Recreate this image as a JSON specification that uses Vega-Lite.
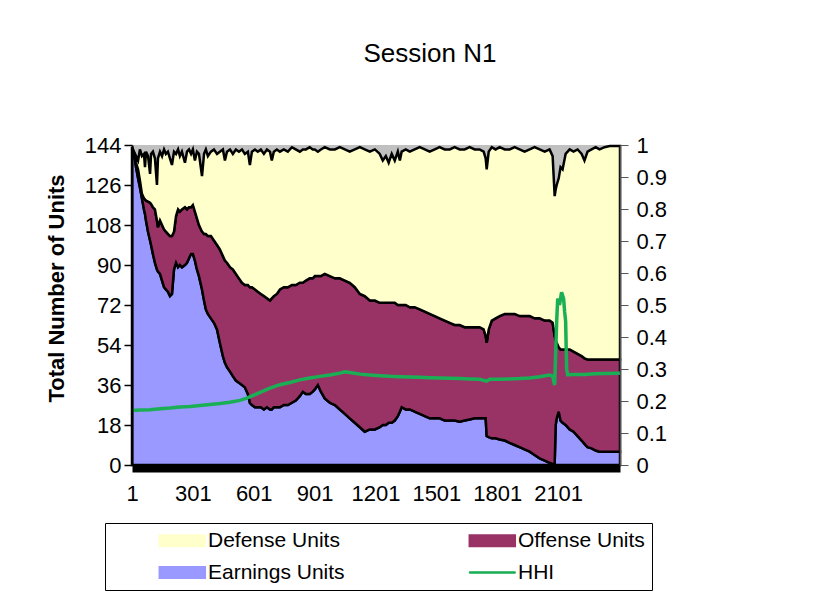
{
  "$schema": "https://vega.github.io/schema/vega-lite/v6.json",
  "width": 488,
  "height": 320,
  "autosize": "none",
  "padding": {"left": 132, "top": 145, "right": 194, "bottom": 132},
  "background": "white",
  "config": {"view": {"fill": "#C0C0C0", "stroke": null}, "font": "Liberation Sans"},
  "title": {"text": "Session N1", "fontSize": 26, "fontWeight": "normal", "font": "Liberation Sans", "color": "black", "anchor": "middle", "frame": "group", "dx": 54, "baseline": "alphabetic", "offset": 46},
  "datasets": {
    "units": [
      {"period": 1, "earnings": 142, "offense": 1, "defense": 0},
      {"period": 11, "earnings": 140, "offense": 0.5, "defense": 0.5},
      {"period": 21, "earnings": 134, "offense": 2, "defense": 3},
      {"period": 31, "earnings": 129, "offense": 4, "defense": 4},
      {"period": 40, "earnings": 125, "offense": 3, "defense": 14},
      {"period": 50, "earnings": 120, "offense": 2, "defense": 17},
      {"period": 60, "earnings": 115, "offense": 5, "defense": 20},
      {"period": 65, "earnings": 113, "offense": 6.5, "defense": 14.5},
      {"period": 70, "earnings": 110, "offense": 9, "defense": 22},
      {"period": 80, "earnings": 105, "offense": 13.5, "defense": 20.5},
      {"period": 90, "earnings": 101, "offense": 17, "defense": 13},
      {"period": 95, "earnings": 99, "offense": 18.5, "defense": 22.5},
      {"period": 104, "earnings": 95, "offense": 21, "defense": 25},
      {"period": 114, "earnings": 91, "offense": 24, "defense": 23},
      {"period": 124, "earnings": 88, "offense": 22, "defense": 16},
      {"period": 129, "earnings": 87, "offense": 20, "defense": 31},
      {"period": 139, "earnings": 86, "offense": 24, "defense": 31},
      {"period": 149, "earnings": 83, "offense": 25, "defense": 31},
      {"period": 159, "earnings": 80, "offense": 26, "defense": 36},
      {"period": 168, "earnings": 79, "offense": 26, "defense": 35},
      {"period": 178, "earnings": 78, "offense": 26, "defense": 37},
      {"period": 188, "earnings": 76, "offense": 27, "defense": 35},
      {"period": 198, "earnings": 77, "offense": 26, "defense": 32},
      {"period": 208, "earnings": 88, "offense": 17, "defense": 36},
      {"period": 218, "earnings": 91, "offense": 21, "defense": 28},
      {"period": 228, "earnings": 89, "offense": 26, "defense": 27},
      {"period": 237, "earnings": 90, "offense": 24, "defense": 25},
      {"period": 247, "earnings": 89, "offense": 26, "defense": 26},
      {"period": 262, "earnings": 90, "offense": 26, "defense": 20},
      {"period": 272, "earnings": 91, "offense": 24, "defense": 26},
      {"period": 282, "earnings": 93, "offense": 23, "defense": 26},
      {"period": 292, "earnings": 95, "offense": 21, "defense": 24},
      {"period": 301, "earnings": 95, "offense": 22, "defense": 25},
      {"period": 311, "earnings": 92, "offense": 22, "defense": 23},
      {"period": 321, "earnings": 88, "offense": 23, "defense": 30},
      {"period": 331, "earnings": 85, "offense": 23, "defense": 32},
      {"period": 346, "earnings": 79, "offense": 26, "defense": 25},
      {"period": 356, "earnings": 74, "offense": 30, "defense": 36},
      {"period": 365, "earnings": 70, "offense": 34, "defense": 38},
      {"period": 375, "earnings": 68, "offense": 35, "defense": 36},
      {"period": 390, "earnings": 66, "offense": 37, "defense": 38},
      {"period": 405, "earnings": 64, "offense": 37, "defense": 41},
      {"period": 420, "earnings": 61, "offense": 38, "defense": 41},
      {"period": 434, "earnings": 55, "offense": 42, "defense": 44},
      {"period": 449, "earnings": 49, "offense": 45, "defense": 48},
      {"period": 459, "earnings": 46, "offense": 46, "defense": 45},
      {"period": 469, "earnings": 44, "offense": 47, "defense": 50},
      {"period": 484, "earnings": 42, "offense": 47, "defense": 53},
      {"period": 498, "earnings": 40, "offense": 48, "defense": 52},
      {"period": 513, "earnings": 38, "offense": 48, "defense": 56},
      {"period": 528, "earnings": 37, "offense": 47, "defense": 57},
      {"period": 543, "earnings": 36, "offense": 46, "defense": 60},
      {"period": 557, "earnings": 35, "offense": 46, "defense": 59},
      {"period": 572, "earnings": 32, "offense": 49, "defense": 60},
      {"period": 582, "earnings": 28, "offense": 52, "defense": 55},
      {"period": 592, "earnings": 27, "offense": 53, "defense": 61},
      {"period": 607, "earnings": 26, "offense": 53, "defense": 63},
      {"period": 621, "earnings": 26, "offense": 52, "defense": 63},
      {"period": 636, "earnings": 26, "offense": 51, "defense": 65},
      {"period": 651, "earnings": 25, "offense": 51, "defense": 64},
      {"period": 666, "earnings": 26, "offense": 49, "defense": 67},
      {"period": 681, "earnings": 25, "offense": 49, "defense": 67},
      {"period": 690, "earnings": 25, "offense": 50, "defense": 62},
      {"period": 700, "earnings": 26, "offense": 50, "defense": 65},
      {"period": 715, "earnings": 26, "offense": 51, "defense": 65},
      {"period": 730, "earnings": 26, "offense": 53, "defense": 62},
      {"period": 749, "earnings": 27, "offense": 53, "defense": 62},
      {"period": 769, "earnings": 27, "offense": 53, "defense": 61},
      {"period": 789, "earnings": 28, "offense": 53, "defense": 62},
      {"period": 808, "earnings": 29, "offense": 52, "defense": 61},
      {"period": 828, "earnings": 31, "offense": 51, "defense": 59},
      {"period": 843, "earnings": 33, "offense": 49, "defense": 60},
      {"period": 858, "earnings": 32, "offense": 51, "defense": 59},
      {"period": 877, "earnings": 32, "offense": 52, "defense": 59},
      {"period": 892, "earnings": 33, "offense": 51, "defense": 58},
      {"period": 902, "earnings": 34, "offense": 51, "defense": 57},
      {"period": 917, "earnings": 36, "offense": 49, "defense": 56},
      {"period": 932, "earnings": 33, "offense": 52, "defense": 57},
      {"period": 951, "earnings": 30, "offense": 56, "defense": 57},
      {"period": 976, "earnings": 28, "offense": 57, "defense": 57},
      {"period": 1001, "earnings": 27, "offense": 57, "defense": 58},
      {"period": 1025, "earnings": 25, "offense": 59, "defense": 59},
      {"period": 1050, "earnings": 23, "offense": 60, "defense": 59},
      {"period": 1074, "earnings": 21, "offense": 61, "defense": 59},
      {"period": 1099, "earnings": 19, "offense": 61, "defense": 62},
      {"period": 1124, "earnings": 17, "offense": 60, "defense": 66},
      {"period": 1148, "earnings": 15, "offense": 61, "defense": 66},
      {"period": 1173, "earnings": 16, "offense": 58, "defense": 67},
      {"period": 1198, "earnings": 16, "offense": 58, "defense": 68},
      {"period": 1222, "earnings": 17, "offense": 56, "defense": 67},
      {"period": 1237, "earnings": 18, "offense": 55, "defense": 64},
      {"period": 1252, "earnings": 18, "offense": 55, "defense": 66},
      {"period": 1266, "earnings": 19, "offense": 54, "defense": 63},
      {"period": 1281, "earnings": 19, "offense": 54, "defense": 67},
      {"period": 1296, "earnings": 20, "offense": 53, "defense": 64},
      {"period": 1311, "earnings": 22, "offense": 50, "defense": 69},
      {"period": 1321, "earnings": 24, "offense": 48, "defense": 65},
      {"period": 1330, "earnings": 26, "offense": 46, "defense": 69},
      {"period": 1350, "earnings": 25, "offense": 47, "defense": 70},
      {"period": 1370, "earnings": 25, "offense": 46, "defense": 70},
      {"period": 1394, "earnings": 24, "offense": 47, "defense": 71},
      {"period": 1419, "earnings": 23, "offense": 47, "defense": 73},
      {"period": 1444, "earnings": 22, "offense": 47, "defense": 73},
      {"period": 1468, "earnings": 21, "offense": 47, "defense": 73},
      {"period": 1493, "earnings": 21, "offense": 46, "defense": 75},
      {"period": 1517, "earnings": 21, "offense": 45, "defense": 77},
      {"period": 1542, "earnings": 20, "offense": 45, "defense": 77},
      {"period": 1567, "earnings": 20, "offense": 44, "defense": 78},
      {"period": 1591, "earnings": 20, "offense": 43, "defense": 80},
      {"period": 1616, "earnings": 19.5, "offense": 43.5, "defense": 79},
      {"period": 1640, "earnings": 20, "offense": 42, "defense": 80},
      {"period": 1665, "earnings": 20.5, "offense": 41.5, "defense": 81},
      {"period": 1690, "earnings": 21, "offense": 41, "defense": 80},
      {"period": 1714, "earnings": 21, "offense": 41, "defense": 80},
      {"period": 1734, "earnings": 21, "offense": 40, "defense": 80},
      {"period": 1744, "earnings": 21, "offense": 37, "defense": 80},
      {"period": 1749, "earnings": 13, "offense": 42, "defense": 78},
      {"period": 1759, "earnings": 12.5, "offense": 48.5, "defense": 80},
      {"period": 1774, "earnings": 12, "offense": 53, "defense": 78},
      {"period": 1793, "earnings": 12, "offense": 54, "defense": 76},
      {"period": 1813, "earnings": 11.5, "offense": 55.5, "defense": 76},
      {"period": 1838, "earnings": 11, "offense": 57, "defense": 74},
      {"period": 1862, "earnings": 10, "offense": 58, "defense": 74},
      {"period": 1887, "earnings": 9, "offense": 59, "defense": 75},
      {"period": 1911, "earnings": 8, "offense": 59, "defense": 75},
      {"period": 1936, "earnings": 7, "offense": 60, "defense": 74},
      {"period": 1961, "earnings": 6, "offense": 61, "defense": 75},
      {"period": 1985, "earnings": 4.5, "offense": 61.5, "defense": 77},
      {"period": 2010, "earnings": 3, "offense": 63, "defense": 76},
      {"period": 2035, "earnings": 2, "offense": 63, "defense": 76},
      {"period": 2059, "earnings": 1, "offense": 64, "defense": 77},
      {"period": 2074, "earnings": 0.5, "offense": 63.5, "defense": 75},
      {"period": 2084, "earnings": 0.5, "offense": 57.5, "defense": 63},
      {"period": 2089, "earnings": 18, "offense": 38, "defense": 68},
      {"period": 2094, "earnings": 21, "offense": 34, "defense": 71},
      {"period": 2104, "earnings": 24, "offense": 29, "defense": 76},
      {"period": 2113, "earnings": 20, "offense": 32, "defense": 82},
      {"period": 2123, "earnings": 19, "offense": 33, "defense": 81},
      {"period": 2138, "earnings": 18, "offense": 34, "defense": 88},
      {"period": 2158, "earnings": 16, "offense": 36, "defense": 90},
      {"period": 2177, "earnings": 15, "offense": 36, "defense": 90},
      {"period": 2197, "earnings": 13, "offense": 37, "defense": 92},
      {"period": 2217, "earnings": 11, "offense": 38, "defense": 91},
      {"period": 2231, "earnings": 9.5, "offense": 38.5, "defense": 89},
      {"period": 2246, "earnings": 8, "offense": 39.5, "defense": 93.5},
      {"period": 2266, "earnings": 7.5, "offense": 40, "defense": 94.5},
      {"period": 2286, "earnings": 6.5, "offense": 41, "defense": 95.5},
      {"period": 2305, "earnings": 6, "offense": 41.5, "defense": 94.5},
      {"period": 2330, "earnings": 6, "offense": 41.5, "defense": 95.5},
      {"period": 2355, "earnings": 6, "offense": 41.5, "defense": 96},
      {"period": 2379, "earnings": 6, "offense": 41.5, "defense": 96},
      {"period": 2406, "earnings": 6, "offense": 41.5, "defense": 96}
    ],
    "hhi": [
      {"period": 1, "hhi": 0.170}, {"period": 40, "hhi": 0.172}, {"period": 90, "hhi": 0.173},
      {"period": 139, "hhi": 0.176}, {"period": 188, "hhi": 0.178}, {"period": 237, "hhi": 0.181},
      {"period": 287, "hhi": 0.183}, {"period": 336, "hhi": 0.186}, {"period": 385, "hhi": 0.189},
      {"period": 434, "hhi": 0.192}, {"period": 484, "hhi": 0.196}, {"period": 533, "hhi": 0.202},
      {"period": 567, "hhi": 0.209}, {"period": 607, "hhi": 0.220}, {"period": 641, "hhi": 0.229},
      {"period": 681, "hhi": 0.240}, {"period": 730, "hhi": 0.251}, {"period": 779, "hhi": 0.258},
      {"period": 828, "hhi": 0.266}, {"period": 877, "hhi": 0.272}, {"period": 927, "hhi": 0.277},
      {"period": 976, "hhi": 0.281}, {"period": 1025, "hhi": 0.287}, {"period": 1050, "hhi": 0.291},
      {"period": 1074, "hhi": 0.289}, {"period": 1124, "hhi": 0.284}, {"period": 1173, "hhi": 0.281},
      {"period": 1222, "hhi": 0.279}, {"period": 1271, "hhi": 0.277}, {"period": 1321, "hhi": 0.276},
      {"period": 1370, "hhi": 0.275}, {"period": 1419, "hhi": 0.274}, {"period": 1468, "hhi": 0.273},
      {"period": 1517, "hhi": 0.272}, {"period": 1567, "hhi": 0.271}, {"period": 1616, "hhi": 0.270},
      {"period": 1665, "hhi": 0.269}, {"period": 1714, "hhi": 0.268}, {"period": 1749, "hhi": 0.262},
      {"period": 1764, "hhi": 0.268}, {"period": 1813, "hhi": 0.268}, {"period": 1862, "hhi": 0.269},
      {"period": 1911, "hhi": 0.270}, {"period": 1961, "hhi": 0.272}, {"period": 2010, "hhi": 0.276},
      {"period": 2059, "hhi": 0.281}, {"period": 2074, "hhi": 0.278}, {"period": 2084, "hhi": 0.250},
      {"period": 2094, "hhi": 0.450}, {"period": 2099, "hhi": 0.520}, {"period": 2108, "hhi": 0.500},
      {"period": 2118, "hhi": 0.540}, {"period": 2128, "hhi": 0.520}, {"period": 2133, "hhi": 0.480},
      {"period": 2138, "hhi": 0.450}, {"period": 2143, "hhi": 0.300}, {"period": 2148, "hhi": 0.282},
      {"period": 2182, "hhi": 0.283}, {"period": 2231, "hhi": 0.283}, {"period": 2281, "hhi": 0.285},
      {"period": 2330, "hhi": 0.286}, {"period": 2406, "hhi": 0.287}
    ]
  },
  "layer": [
    {
      "data": {"name": "units"},
      "transform": [
        {"fold": ["earnings", "offense", "defense"], "as": ["series", "units"]},
        {"stack": "units", "groupby": ["period"], "sort": [{"field": "period", "order": "ascending"}], "as": ["u0", "u1"]}
      ],
      "mark": {"type": "area", "stroke": "black", "strokeWidth": 2.5},
      "encoding": {
        "x": {
          "field": "period", "type": "quantitative",
          "scale": {"domain": [1, 2406], "nice": false, "zero": false},
          "axis": {
            "values": [1, 301, 601, 901, 1201, 1501, 1801, 2101], "format": "d",
            "ticks": false, "tickSize": 0, "labelFontSize": 22, "labelColor": "black",
            "labelPadding": 15, "domainColor": "black", "domainWidth": 8, "offset": 3,
            "title": null, "grid": false, "labelFlush": false, "labelOverlap": false, "zindex": 1
          }
        },
        "y": {
          "field": "u1", "type": "quantitative",
          "scale": {"domain": [0, 144], "nice": false},
          "axis": {
            "values": [0, 18, 36, 54, 72, 90, 108, 126, 144],
            "tickSize": 8, "tickColor": "black", "tickWidth": 1.5,
            "domainColor": "black", "domainWidth": 2,
            "labelFontSize": 22, "labelColor": "black", "labelPadding": 3,
            "title": "Total Number of Units", "titleFontSize": 22, "titleFontWeight": "bold",
            "titleColor": "black", "titleX": -64, "titleY": 143,
            "grid": false, "labelOverlap": false, "zindex": 1
          }
        },
        "y2": {"field": "u0"},
        "color": {
          "field": "series", "type": "nominal",
          "scale": {"domain": ["defense", "offense", "earnings", "hhi"], "range": ["#FFFFCC", "#993366", "#9999FF", "#1AAF54"]},
          "legend": {
            "title": null,
            "orient": "none", "legendX": -27, "legendY": 378,
            "direction": "horizontal", "columns": 2,
            "labelFontSize": 21, "labelColor": "black", "labelFont": "Liberation Sans",
            "symbolSize": 529, "labelOffset": 75, "columnPadding": 77, "rowPadding": 10,
            "symbolStrokeColor": "black", "symbolStrokeWidth": 1.5,
            "padding": 7, "strokeColor": "black", "fillColor": "white",
            "labelExpr": "datum.label == 'defense' ? 'Defense Units' : datum.label == 'offense' ? 'Offense Units' : datum.label == 'earnings' ? 'Earnings Units' : 'HHI'",
            "encode": {
              "symbols": {
                "update": {
                  "shape": {"signal": "datum.value === 'hhi' ? 'M3.2,-0.06H7.2V0.06H3.2Z' : 'M3.2,-0.5H7.2V0.5H3.2Z'"},
                  "stroke": {"signal": "datum.value === 'hhi' ? '#1AAF54' : 'black'"},
                  "strokeOpacity": {"value": 1},
                  "fill": {"signal": "scale('color', datum.value)"},
                  "strokeWidth": {"signal": "datum.value === 'hhi' ? 1 : 1.5"},
                  "opacity": {"value": 1}
                }
              }
            }
          }
        }
      }
    },
    {
      "data": {"name": "hhi"},
      "mark": {"type": "line", "strokeWidth": 3.5},
      "encoding": {
        "x": {"field": "period", "type": "quantitative"},
        "y": {
          "field": "hhi", "type": "quantitative",
          "scale": {"domain": [0, 1], "nice": false},
          "axis": {
            "orient": "right", "values": [0, 0.1, 0.2, 0.3, 0.4, 0.5, 0.6, 0.7, 0.8, 0.9, 1],
            "format": ".1~f", "tickSize": 8, "tickColor": "#555555", "domainColor": "#555555",
            "domainWidth": 1.5, "labelFontSize": 22, "labelColor": "black", "labelPadding": 8,
            "title": null, "grid": false, "labelOverlap": false, "zindex": 1
          }
        },
        "color": {"datum": "hhi", "legend": null}
      }
    }
  ],
  "resolve": {"scale": {"y": "independent"}}
}
